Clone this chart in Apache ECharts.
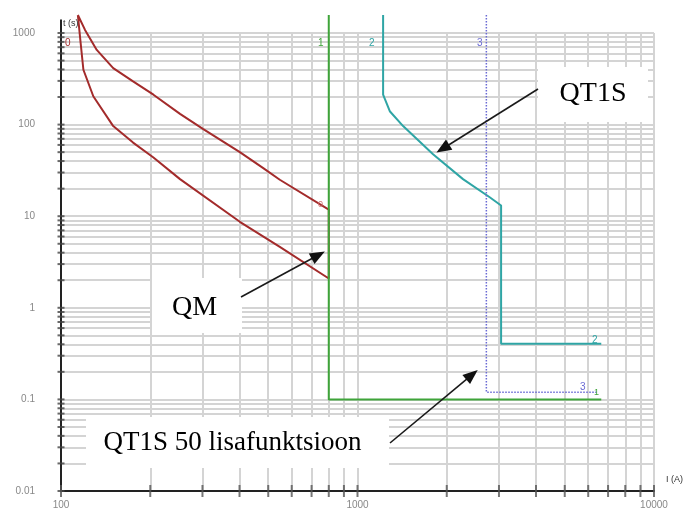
<!DOCTYPE html>
<html><head><meta charset="utf-8">
<script src="https://cdn.jsdelivr.net/npm/echarts@6/dist/echarts.min.js"></script>
<style>html,body{margin:0;padding:0;background:#fff}#c{width:684px;height:510px}</style>
</head><body><div id="c"></div>
<script>
// Axis ticks (labels)
const xTickLabels = [100, 1000, 10000];
const yTickLabels = [0.01, 0.1, 1, 10, 100, 1000];

// QM (curve 0) - upper and lower bands
const qmUpperI = [114, 120.5, 132, 150, 175, 205, 252, 301, 401, 481, 547, 800];
const qmUpperT = [1570, 1080, 654, 414, 296, 212, 131, 90, 50, 33.5, 25, 11.8];
const qmLowerI = [114, 116.5, 119, 128.5, 150, 175, 205, 252, 401, 547, 800];
const qmLowerT = [1570, 773, 397, 204, 96.3, 63.6, 43.7, 25.4, 8.69, 4.62, 2.09];

// Curve 1 (green)
const c1I = [800, 800, 6640];
const c1T = [1570, 0.1, 0.1];

// Curve 2 (teal, QT1S)
const c2I = [1220, 1220, 1285, 1425, 1798, 2269, 2792, 3050, 3050, 6640];
const c2T = [1570, 212, 140, 96.3, 47.5, 25.4, 16.1, 13.1, 0.406, 0.406];

// Curve 3 (dotted, lisafunktsioon)
const c3I = [2720, 2720, 6400];
const c3T = [1570, 0.12, 0.12];

// Annotation targets (data coordinates)
const qt1sTip = [1846, 49.5];
const qmTip = [776, 4.11];
const lisaTip = [2544, 0.21];

const zip = (a, b) => a.map((v, i) => [v, b[i]]);

// minor grid values (1..9 x 10^k)
function minorVals(lo, hi) {
  const out = [];
  for (let e = Math.round(Math.log10(lo)); e < Math.round(Math.log10(hi)); e++) {
    for (let m = 1; m <= 9; m++) out.push(Number((m * Math.pow(10, e)).toPrecision(6)));
  }
  out.push(hi);
  return out;
}
const xGrid = minorVals(100, 10000);
const yGrid = minorVals(0.01, 1000);

const fmt = v => String(Number(v.toPrecision(6)));

const chart = echarts.init(document.getElementById('c'), null, {renderer: 'canvas'});
const gridColor = '#d4d4d4';
const option = {
  animation: false,
  backgroundColor: '#fff',
  grid: {left: 61, right: 30, top: 33, bottom: 16},
  xAxis: {
    type: 'log', logBase: 10, min: 100, max: 10000, z: 10,
    axisLine: {show: true, onZero: false, lineStyle: {color: '#222', width: 2}},
    axisTick: {show: false},
    splitLine: {show: false},
    axisLabel: {color: '#888', fontSize: 10, fontFamily: 'Liberation Sans', margin: 9,
      formatter: v => xTickLabels.some(t => Math.abs(t - v) / t < 1e-6) ? fmt(v) : ''}
  },
  yAxis: {
    type: 'log', logBase: 10, min: 0.01, max: 1000, z: 10,
    axisLine: {show: true, onZero: false, lineStyle: {color: '#222', width: 2}},
    axisTick: {show: false},
    splitLine: {show: false},
    axisLabel: {color: '#888', fontSize: 10, fontFamily: 'Liberation Sans', margin: 26,
      formatter: v => yTickLabels.some(t => Math.abs(t - v) / t < 1e-6) ? fmt(v) : ''}
  },
  series: [
    {
      type: 'line', data: [[100, 1]], symbol: 'none', silent: true, z: 1,
      lineStyle: {opacity: 0},
      markLine: {
        z: 1, silent: true, symbol: 'none', animation: false, label: {show: false},
        lineStyle: {color: gridColor, width: 2, type: 'solid'},
        data: xGrid.filter(v => v > 100).map(v => ({xAxis: v}))
          .concat(yGrid.filter(v => v > 0.01).map(v => ({yAxis: v})))
      }
    },
    {
      type: 'scatter', silent: true, z: 11, clip: false,
      data: yGrid.map(v => [100, v]), symbol: 'rect', symbolSize: [7, 2],
      itemStyle: {color: '#444'}
    },
    {
      type: 'scatter', silent: true, z: 11, clip: false,
      data: xGrid.map(v => [v, 0.01]), symbol: 'rect', symbolSize: [2, 12], symbolOffset: [0, 0],
      itemStyle: {color: '#555'}
    },
    {
      name: 'QM', type: 'line', clip: false, symbol: 'none', silent: true, z: 4,
      data: zip(qmLowerI, qmLowerT).concat(zip(qmUpperI, qmUpperT).reverse()),
      lineStyle: {color: '#a32b2b', width: 2}
    },
    {
      name: '1', type: 'line', clip: false, symbol: 'none', silent: true, z: 5,
      data: zip(c1I, c1T), lineStyle: {color: '#3fa43a', width: 2}
    },
    {
      name: '2', type: 'line', clip: false, symbol: 'none', silent: true, z: 5,
      data: zip(c2I, c2T), lineStyle: {color: '#2fa5a5', width: 2}
    },
    {
      name: '3', type: 'line', clip: false, symbol: 'none', silent: true, z: 5,
      data: zip(c3I, c3T), lineStyle: {color: '#6a6ad4', width: 1.5, type: [1.5, 1.5]}
    },
    {
      type: 'line', clip: false, symbol: 'none', silent: true, z: 11,
      data: [[100, 1000], [100, 1400]], lineStyle: {color: '#222', width: 2}
    }
  ]
};
chart.setOption(option);

const px = p => chart.convertToPixel({gridIndex: 0}, p);

function arrow(tail, tip) {
  const dx = tip[0] - tail[0], dy = tip[1] - tail[1];
  const L = Math.hypot(dx, dy), ux = dx / L, uy = dy / L;
  const hl = 15, hw = 6;
  const b = [tip[0] - ux * hl, tip[1] - uy * hl];
  return [
    {type: 'line', z: 50, shape: {x1: tail[0], y1: tail[1], x2: b[0] + ux * 3, y2: b[1] + uy * 3},
      style: {stroke: '#1a1a1a', lineWidth: 1.6}},
    {type: 'polygon', z: 51, shape: {points: [tip, [b[0] - uy * hw, b[1] + ux * hw], [b[0] + uy * hw, b[1] - ux * hw]]},
      style: {fill: '#111'}}
  ];
}
function box(x, y, w, h) {
  return {type: 'rect', z: 40, shape: {x, y, width: w, height: h}, style: {fill: '#fff'}};
}
function txt(t, x, y, size, color, family, align) {
  return {type: 'text', z: 60, x, y,
    style: {text: t, fill: color, font: size + 'px "' + family + '"', textAlign: align || 'left', textVerticalAlign: 'middle'}};
}

const serif = 'Liberation Serif', sans = 'Liberation Sans';
const graphics = [
  box(538, 67, 110, 55), txt('QT1S', 593, 94, 28, '#000', serif, 'center'),
  box(152, 278, 90, 55), txt('QM', 194.5, 307.5, 28, '#000', serif, 'center'),
  box(86, 417, 303, 51), txt('QT1S 50 lisafunktsioon', 232.5, 442.5, 27, '#000', serif, 'center'),
  ...arrow([538, 89], px(qt1sTip)),
  ...arrow([241, 297], px(qmTip)),
  ...arrow([390, 443], px(lisaTip)),
  txt('t (s)', 63, 24, 9, '#333', sans),
  txt('I (A)', 666, 480, 9, '#333', sans),
  txt('0', 65, 43, 10, '#a32b2b', sans),
  txt('1', 318, 43, 10, '#3fa43a', sans),
  txt('2', 369, 43, 10, '#2fa5a5', sans),
  txt('3', 477, 43, 10, '#6a6ad4', sans),
  txt('2', 592, 340, 10, '#2fa5a5', sans),
  txt('3', 580, 387, 10, '#6a6ad4', sans),
  txt('1', 594, 393, 9, '#3fa43a', sans),
  txt('0', 318, 205, 9, '#d07070', sans)
];
chart.setOption({graphic: {elements: graphics}});
</script>
</body></html>
